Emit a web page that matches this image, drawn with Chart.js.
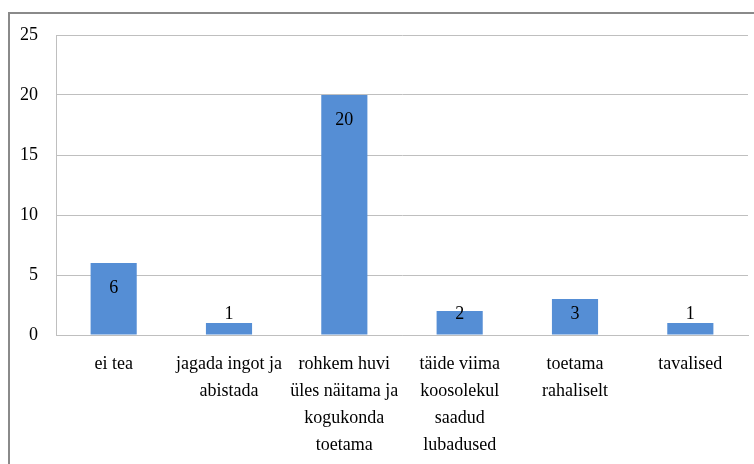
<!DOCTYPE html>
<html><head><meta charset="utf-8">
<script src="https://cdn.jsdelivr.net/npm/chart.js@4"></script>
<style>html,body{margin:0;padding:0;background:#fff;}#wrap{width:754px;height:464px;}</style>
</head><body><div id="wrap"><canvas id="c" width="754" height="464"></canvas></div>
<script>
const categories = [
  "ei tea",
  ["jagada ingot ja", "abistada"],
  ["rohkem huvi", "üles näitama ja", "kogukonda", "toetama"],
  ["täide viima", "koosolekul", "saadud", "lubadused"],
  ["toetama", "rahaliselt"],
  "tavalised"
];
const values = [6, 1, 20, 2, 3, 1];
const yTicks = [0, 5, 10, 15, 20, 25];

const FONT = "'Liberation Serif', 'Times New Roman', serif";

const frame = {
  id: 'frame',
  beforeDraw(chart) {
    const ctx = chart.ctx;
    ctx.save();
    ctx.strokeStyle = '#8a8a8a';
    ctx.lineWidth = 2;
    ctx.strokeRect(9, 13, 760, 470);
    ctx.restore();
  }
};

const labels = {
  id: 'valueLabels',
  afterDatasetsDraw(chart) {
    const ctx = chart.ctx;
    const meta = chart.getDatasetMeta(0);
    const ys = chart.scales.y;
    const base = ys.getPixelForValue(0);
    ctx.save();
    ctx.font = '18px ' + FONT;
    ctx.fillStyle = '#000';
    ctx.textAlign = 'center';
    ctx.textBaseline = 'middle';
    meta.data.forEach((bar, i) => {
      const top = ys.getPixelForValue(values[i]);
      const y = Math.min(top + 25, base - 21);
      ctx.fillText(String(values[i]), bar.x, y);
    });
    ctx.restore();
  }
};

new Chart(document.getElementById('c'), {
  type: 'bar',
  data: {
    labels: categories,
    datasets: [{
      data: values,
      backgroundColor: '#558ed5',
      categoryPercentage: 1.0,
      barPercentage: 0.4
    }]
  },
  options: {
    responsive: false,
    animation: false,
    layout: { padding: { top: 35, right: 6, left: 0, bottom: 0 } },
    plugins: { legend: { display: false }, tooltip: { enabled: false } },
    scales: {
      x: {
        grid: { display: false, drawTicks: false },
        border: { display: true, color: '#bfbfbf', width: 1 },
        ticks: {
          maxRotation: 0, autoSkip: false, padding: 16,
          color: '#000', font: { family: FONT, size: 18, lineHeight: '27px' }
        },
        afterFit(s) { s.height = 129; }
      },
      y: {
        min: 0, max: 25,
        afterBuildTicks(s) { s.ticks = yTicks.map(v => ({ value: v })); },
        grid: { color: '#bfbfbf', drawTicks: false },
        border: { display: true, color: '#bfbfbf', width: 1 },
        ticks: {
          padding: 18, color: '#000',
          font: { family: FONT, size: 18 }
        },
        afterFit(s) { s.width = 56; }
      }
    }
  },
  plugins: [frame, labels]
});
</script></body></html>
